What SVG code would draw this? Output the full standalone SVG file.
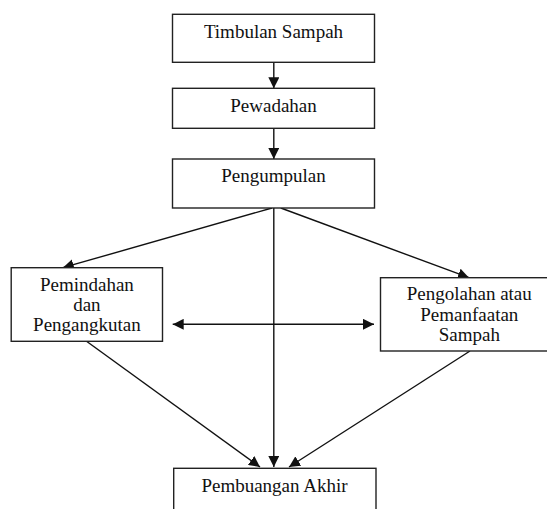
<svg xmlns="http://www.w3.org/2000/svg" width="547" height="509" viewBox="0 0 547 509">
<style>
.box{fill:#fff;stroke:#222;stroke-width:1.4}
.lbl{font-family:"Liberation Serif","Times New Roman",serif;font-size:19px;fill:#111;text-anchor:middle}
.con{stroke:#111;stroke-width:1.4;fill:none}
</style>
<defs>
<marker id="ah" markerUnits="userSpaceOnUse" viewBox="0 0 10 10" refX="10" refY="5" markerWidth="11" markerHeight="11" orient="auto-start-reverse">
<path d="M0,0 L10,5 L0,10 z" fill="#111"/>
</marker>
</defs>
<rect width="547" height="509" fill="#fff"/>
<g id="connectors">
<line class="con" x1="273.8" y1="62.3" x2="273.8" y2="88.3" marker-end="url(#ah)"/>
<line class="con" x1="273.8" y1="128.3" x2="273.8" y2="159" marker-end="url(#ah)"/>
<line class="con" x1="272" y1="208" x2="62.8" y2="267.7" marker-end="url(#ah)"/>
<line class="con" x1="280.8" y1="208" x2="469" y2="277.7" marker-end="url(#ah)"/>
<line class="con" x1="273.8" y1="208" x2="273.8" y2="467" marker-end="url(#ah)"/>
<line class="con" x1="172.7" y1="324.3" x2="374" y2="324.3" marker-start="url(#ah)" marker-end="url(#ah)"/>
<line class="con" x1="86.5" y1="341.3" x2="260" y2="467" marker-end="url(#ah)"/>
<line class="con" x1="470" y1="351" x2="289" y2="467" marker-end="url(#ah)"/>
</g>
<g id="timbulan">
<rect class="box" x="172.5" y="14.3" width="202" height="48"/>
<text class="lbl" x="273.5" y="38.3">Timbulan Sampah</text>
</g>
<g id="pewadahan">
<rect class="box" x="172.5" y="88.3" width="202" height="40"/>
<text class="lbl" x="273.5" y="112">Pewadahan</text>
</g>
<g id="pengumpulan">
<rect class="box" x="172.5" y="159" width="202" height="49"/>
<text class="lbl" x="273.5" y="182">Pengumpulan</text>
</g>
<g id="pemindahan">
<rect class="box" x="11.2" y="267.7" width="151.3" height="73.6"/>
<text class="lbl" x="86.9" y="290.5">Pemindahan</text>
<text class="lbl" x="86.9" y="310.7">dan</text>
<text class="lbl" x="86.9" y="330.5">Pengangkutan</text>
</g>
<g id="pengolahan">
<rect class="box" x="380.5" y="277.7" width="178" height="73.3"/>
<text class="lbl" x="469.3" y="300">Pengolahan atau</text>
<text class="lbl" x="469.3" y="320.5">Pemanfaatan</text>
<text class="lbl" x="469.3" y="340.7">Sampah</text>
</g>
<g id="pembuangan">
<rect class="box" x="173.7" y="468.3" width="202.3" height="50"/>
<text class="lbl" x="274.5" y="491.7">Pembuangan Akhir</text>
</g>
</svg>
